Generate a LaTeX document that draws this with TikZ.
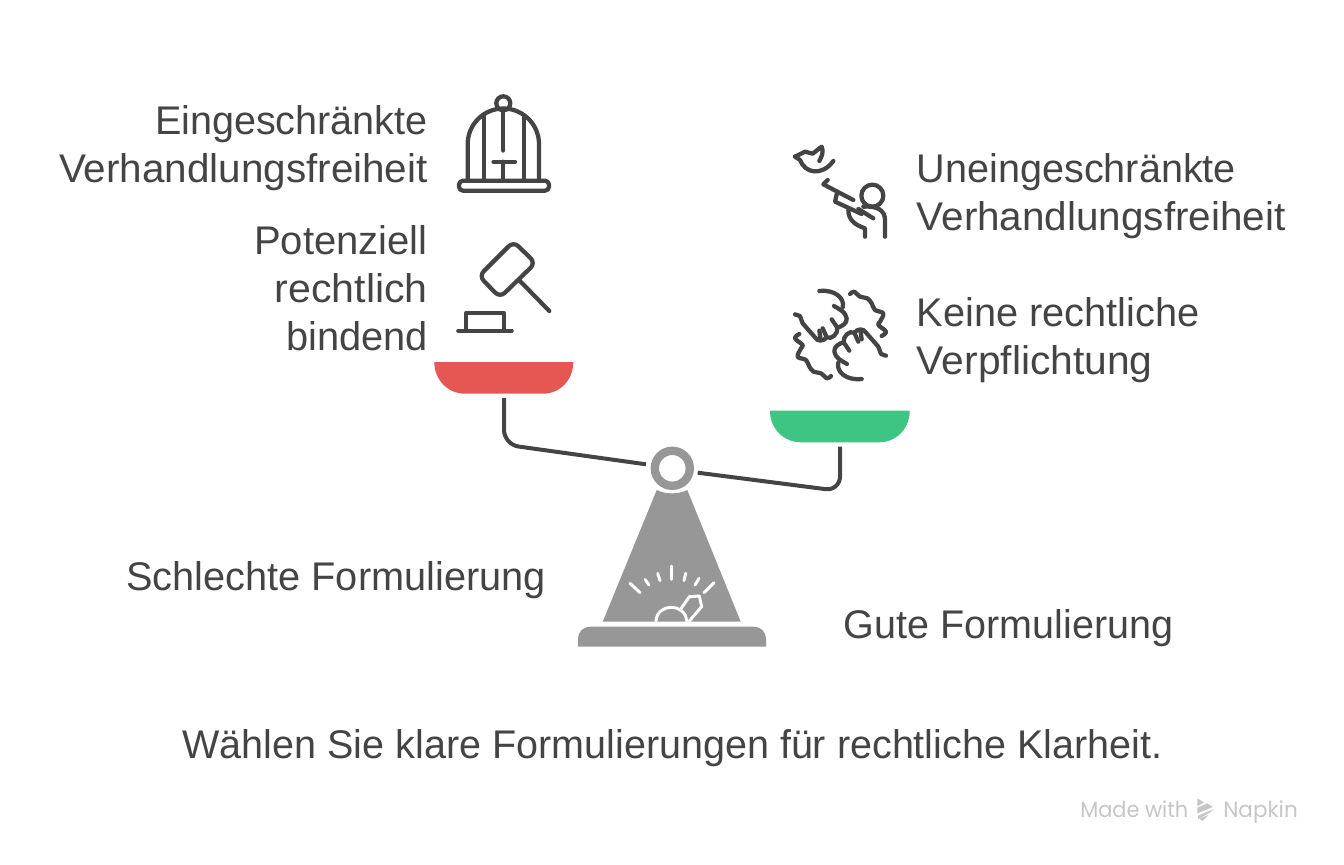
\documentclass[tikz,border=0pt]{standalone}
\usepackage{fontspec}
\setmainfont{Liberation Sans}
\newfontfamily\wmfont{Poppins}
\newcommand{\fitw}[2]{{\addfontfeature{FakeStretch=#1}#2}}
\definecolor{ink}{HTML}{444444}
\definecolor{stand}{HTML}{979797}
\definecolor{redpan}{HTML}{E55753}
\definecolor{greenpan}{HTML}{3EC584}
\definecolor{wm}{HTML}{C6C6C6}
\tikzset{
  lbl/.style={font=\fontsize{30pt}{36pt}\selectfont,text=ink,inner sep=0pt},
  lblr/.style={lbl,align=right,anchor=base east},
  lbll/.style={lbl,align=left,anchor=base west},
  icon/.style={draw=ink,line width=3.2pt,line cap=round,line join=round},
  beam/.style={draw=ink,line width=3pt,rounded corners=11pt},
  dial/.style={draw=white,line width=2.2pt,line cap=round,line join=round},
  wmtext/.style={font=\wmfont\fontsize{16.5pt}{20pt}\selectfont,text=wm,inner sep=0pt,anchor=base west},
}
\begin{document}
\begin{tikzpicture}[x=0.75pt,y=-0.75pt]
\useasboundingbox (0,0) rectangle (1344,864);
% labels
\node[lblr] (l1) at (428,182) {\fitw{0.989}{Eingeschränkte}\\\fitw{1.011}{Verhandlungsfreiheit}};
\node[lblr] (l2) at (428,350) {Potenziell\\\fitw{1.027}{rechtlich}\\\fitw{0.995}{bindend}};
\node[lbll] (r1) at (916.5,230) {\fitw{0.99}{Uneingeschränkte}\\\fitw{1.011}{Verhandlungsfreiheit}};
\node[lbll] (r2) at (916.5,374) {\fitw{0.993}{Keine rechtliche}\\\fitw{1.02}{Verpflichtung}};
\node[lbl,anchor=base west] (bad) at (126,590) {\fitw{0.993}{Schlechte Formulierung}};
\node[lbl,anchor=base west] (good) at (843.5,638) {\fitw{0.988}{Gute Formulierung}};
\node[lbl,anchor=base] (title) at (672.5,758) {\fitw{0.988}{Wählen Sie klare Formulierungen für rechtliche Klarheit.}};
% cage
\draw[icon] (503.3,103.3) circle (7);
\draw[icon] (467.7,180) -- (467.7,144) .. controls (467.7,124.4) and (483.7,108.5) .. (503.3,108.5) .. controls (523,108.5) and (539,124.4) .. (539,144) -- (539,180);
\draw[icon] (483.7,180) -- (483.7,116);
\draw[icon] (523.7,180) -- (523.7,116);
\draw[icon] (503.3,110) -- (503.3,150.5);
\draw[icon] (493.5,161.7) -- (515,161.7);
\draw[icon] (503.3,161.7) -- (503.3,180);
\draw[icon,rounded corners=3pt] (459,180.7) rectangle (549,190.7);
% gavel
\draw[icon,rounded corners=5pt] (513.5,241.5) -- (535.5,263) -- (500,297.5) -- (479,276) -- cycle;
\draw[icon] (519,280) -- (549.3,311);
\draw[icon] (465.7,330) -- (465.7,313.3) -- (504.3,313.3) -- (504.3,330);
\draw[icon] (458.3,330.7) -- (511.7,330.7);
% hunter and bird
\begin{scope}[shift={(780,135)},x=0.25pt,y=-0.25pt]
\draw[icon] (277,182) circle (33);
\draw[icon] (250,215) .. controls (290,212) and (315,225) .. (315,255) -- (315,305);
\draw[icon] (143,135) -- (130,148) -- (172,170) -- (220,195);
\draw[icon] (172,170) -- (165,200) -- (245,237);
\draw[icon] (235,222) -- (280,250);
\draw[icon] (205,225) .. controls (205,255) and (225,270) .. (255,280) -- (255,305);
\draw[icon] (45,65) -- (75,50) -- (98,56) -- (125,35) .. controls (132,50) and (125,65) .. (118,78);
\draw[icon] (45,65) -- (60,75) .. controls (75,115) and (125,125) .. (160,78);
\end{scope}
% hands
\begin{scope}[shift={(780,280)},x=0.25pt,y=-0.25pt]
\foreach \ang in {0,180}{
\begin{scope}[rotate around={\ang:(181.5,165)}]
\draw[icon] (118,33) .. controls (165,28) and (195,55) .. (188,82);
\draw[icon] (162,78) .. controls (178,88) and (197,95) .. (200,115) .. controls (202,130) and (185,140) .. (172,143) .. controls (175,160) and (155,180) .. (140,172) .. controls (130,185) and (112,185) .. (105,172) -- (68,130) -- (60,108) -- (45,103);
\draw[icon] (172,143) -- (155,118);
\draw[icon] (140,172) -- (128,145);
\draw[icon] (122,180) -- (118,152);
\draw[icon] plot[smooth,tension=0.6] coordinates {(210,42) (222,35) (240,50) (262,55) (275,70) (285,90) (310,100) (300,125) (295,135) (318,155) (305,168)};
\end{scope}}
\end{scope}
% pans
\fill[redpan] (434.3,362) -- (573.3,362) .. controls (573.3,380) and (560,393.7) .. (543,393.7) -- (465,393.7) .. controls (448,393.7) and (434.3,380) .. (434.3,362) -- cycle;
\fill[greenpan] (770,410.7) -- (909.7,410.7) .. controls (909.7,429) and (896,442.3) .. (879,442.3) -- (801,442.3) .. controls (784,442.3) and (770,429) .. (770,410.7) -- cycle;
% beam
\coordinate (pl) at (504,398);
\coordinate (cl) at (504,444.5);
\coordinate (bl) at (646,464.3);
\coordinate (pr) at (840,446.7);
\coordinate (cr) at (840,491);
\coordinate (br) at (697.7,472.7);
\draw[beam] (pl) -- (cl) -- (bl);
\draw[beam] (pr) -- (cr) -- (br);
% stand
\draw[stand,line width=6.3pt] (672.3,468.3) circle (17.5);
\fill[stand] (656.7,490) .. controls (666,494.5) and (678,494.5) .. (687.3,490) -- (740.7,621.7) -- (602.7,621.7) -- cycle;
\fill[stand] (578,646.7) -- (578,638.7) .. controls (578,632) and (583,626.7) .. (590,626.7) -- (754,626.7) .. controls (761,626.7) and (766,632) .. (766,638.7) -- (766,646.7) -- cycle;
% dial
\begin{scope}[shift={(570,440)},x=0.25pt,y=-0.25pt]
\draw[dial] (180,430) -- (210,458);
\draw[dial] (225,418) -- (237,435);
\draw[dial] (263,400) -- (270,422);
\draw[dial] (305,378) -- (305,418);
\draw[dial] (347,400) -- (342,422);
\draw[dial] (387,415) -- (375,435);
\draw[dial] (432,428) -- (402,458);
\draw[dial] (258,543) .. controls (262,488) and (346,488) .. (350,543);
\draw[dial] (330,510) -- (358,470) -- (388,468) -- (395,500) -- (358,543);
\end{scope}
% watermark
\node[wmtext] (w1) at (1080,817) {\fitw{0.95}{Made with}};
\node[wmtext] (w2) at (1223,817) {\fitw{0.98}{Napkin}};
\begin{scope}[shift={(1070,785)},x=0.25pt,y=-0.25pt]
\fill[wm] (382,40) -- (402,52) -- (382,64) -- cycle;
\fill[wm] (382,68) -- (412,55) -- (428,66) -- (382,85) -- cycle;
\fill[wm] (384,92) -- (432,72) -- (418,84) -- (384,102) -- cycle;
\fill[wm] (388,100) -- (415,90) -- (398,108) -- cycle;
\end{scope}
\end{tikzpicture}
\end{document}
